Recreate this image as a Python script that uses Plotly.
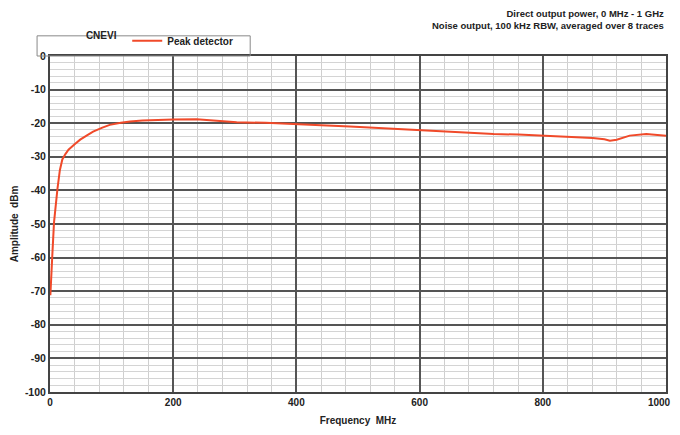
import plotly.graph_objects as go

freq_mhz = [0.6, 1.5, 3.7, 6.5, 9, 12, 16, 20, 25, 30, 40, 49, 60, 70, 85, 97, 115, 130, 150, 173, 200, 238, 270, 303, 350, 400, 440, 487, 540, 568, 612, 640, 676, 720, 760, 800, 840, 881, 900, 909, 920, 941, 968, 985, 1000]
amp_dbm = [-71.2, -66.0, -59.5, -49.6, -44.0, -39.7, -34.0, -30.8, -29.2, -27.9, -26.3, -24.9, -23.6, -22.5, -21.3, -20.5, -19.9, -19.5, -19.2, -19.0, -18.9, -18.8, -19.2, -19.7, -19.9, -20.2, -20.6, -21.0, -21.5, -21.8, -22.2, -22.5, -22.9, -23.2, -23.4, -23.7, -24.0, -24.4, -24.8, -25.2, -24.9, -23.7, -23.2, -23.4, -23.7]

x_ticks = [0, 200, 400, 600, 800, 1000]
y_ticks = [0, -10, -20, -30, -40, -50, -60, -70, -80, -90, -100]

title_lines = ["Direct output power, 0 MHz - 1 GHz", "Noise output, 100 kHz RBW, averaged over 8 traces"]

FONT = "Liberation Sans, Arial, sans-serif"

x_ticktext = [f"<b>{v}</b>" for v in x_ticks]
x_ticktext[-1] = x_ticktext[-1] + "&nbsp;" * 5  # keep the last label inside the window

fig = go.Figure()
fig.add_trace(go.Scatter(
    x=freq_mhz, y=amp_dbm, mode="lines", name="Peak detector",
    line=dict(color="#f04a2a", width=2),
))

fig.update_layout(
    width=672, height=419,
    margin=dict(l=42, r=14, t=48, b=35, autoexpand=False),
    paper_bgcolor="white", plot_bgcolor="white",
    font=dict(family=FONT, size=10, color="#222"),
    showlegend=True,
    legend=dict(
        orientation="h", x=0.055, y=1.002, xanchor="left", yanchor="bottom",
        title=dict(text="<b>CNEVI</b> ", font=dict(size=10, color="#222")),
        font=dict(size=10, color="#222", weight="bold"),
        bgcolor="rgba(0,0,0,0)", borderwidth=0,
        itemwidth=30, tracegroupgap=0,
    ),
    xaxis=dict(
        range=[0, 1000], tickvals=x_ticks, ticktext=x_ticktext,
        tickfont=dict(size=10), ticklabeloverflow="allow",
        showgrid=True, gridcolor="#555", gridwidth=1.5,
        minor=dict(dtick=40, showgrid=True, gridcolor="#cfcfcf", gridwidth=1),
        showline=True, linecolor="#444", linewidth=2, mirror=True,
        ticks="", zeroline=False, automargin=False,
        title=dict(text="<b>Frequency  MHz</b>", standoff=10, font=dict(size=10)),
    ),
    yaxis=dict(
        range=[-100, 0], tickvals=y_ticks, ticktext=[f"<b>{v}</b>" for v in y_ticks],
        tickfont=dict(size=10.5),
        showgrid=True, gridcolor="#555", gridwidth=1.5,
        minor=dict(dtick=2, showgrid=True, gridcolor="#d4d4d4", gridwidth=1),
        showline=True, linecolor="#444", linewidth=2, mirror=True,
        ticks="", zeroline=False, automargin=False,
        title=dict(text="<b>Amplitude  dBm</b>", standoff=4, font=dict(size=10)),
    ),
)

# legend frame
fig.add_shape(type="rect", xref="paper", yref="paper",
              x0=-0.021, x1=0.325, y0=1.0, y1=1.06,
              line=dict(color="#888", width=1), fillcolor="rgba(0,0,0,0)")

fig.add_annotation(
    text="<b>" + title_lines[0] + "</b><br><b>" + title_lines[1] + "</b>",
    xref="paper", yref="paper", x=1.0, y=1.068, xanchor="right", yanchor="bottom",
    align="right", showarrow=False, font=dict(size=9.5, color="#222"),
)

fig.write_html("out.html")
